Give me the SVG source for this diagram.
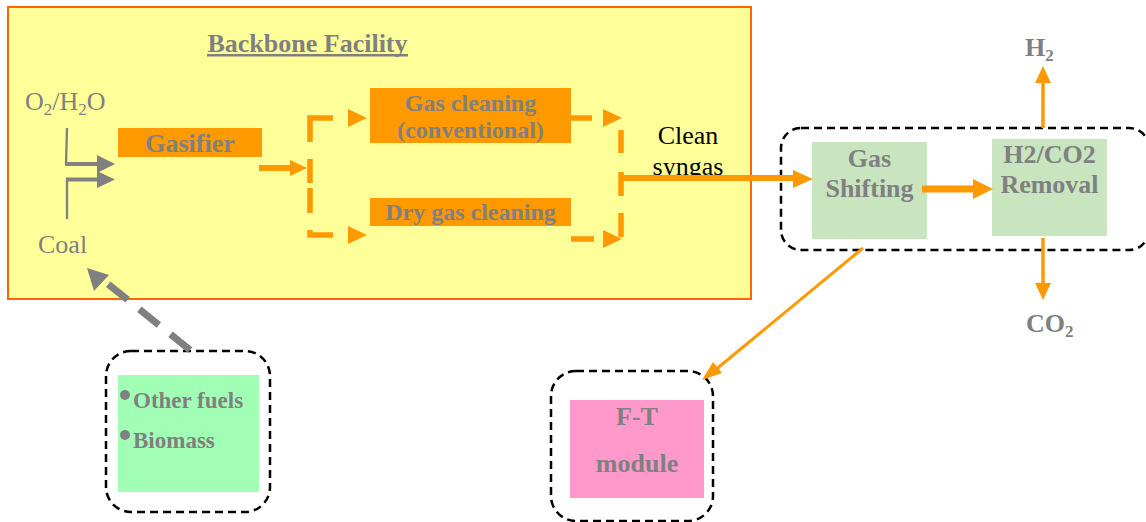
<svg xmlns="http://www.w3.org/2000/svg" width="1146" height="522" viewBox="0 0 1146 522">
<style>
.b{font-family:"Liberation Serif","Times New Roman",serif;font-weight:bold;fill:#808080}
.r{font-family:"Liberation Serif","Times New Roman",serif;fill:#808080}
.k{font-family:"Liberation Serif","Times New Roman",serif;fill:#000}
.or{fill:#FF9900}
.dash{fill:none;stroke:#000;stroke-width:2.5;stroke-dasharray:8 5}
</style>
<rect width="1146" height="522" fill="#fff"/>
<g id="backbone">
<rect x="8" y="7" width="743" height="292" fill="#FFFF99" stroke="#FF6600" stroke-width="2"/>
<text class="b" x="307.5" y="52" font-size="26" text-anchor="middle">Backbone Facility</text>
<rect x="207" y="54" width="201" height="2.5" fill="#808080"/>
</g>
<g id="inputs">
<text class="r" x="25" y="110" font-size="26">O<tspan font-size="17" dy="5">2</tspan><tspan dy="-5">/H</tspan><tspan font-size="17" dy="5">2</tspan><tspan dy="-5">O</tspan></text>
<text class="r" x="38" y="253" font-size="26">Coal</text>
</g>
<g id="gasifier">
<rect class="or" x="118" y="128" width="144" height="29"/>
<text class="b" x="190" y="152" font-size="26" text-anchor="middle">Gasifier</text>
</g>
<g id="gascleaning">
<rect class="or" x="370" y="88" width="201" height="55"/>
<text class="b" x="470.5" y="111" font-size="24" text-anchor="middle">Gas cleaning</text>
<text class="b" x="470.5" y="138" font-size="24" text-anchor="middle">(conventional)</text>
</g>
<g id="drygascleaning">
<rect class="or" x="370" y="198" width="201" height="28"/>
<text class="b" x="470.5" y="220" font-size="24" text-anchor="middle">Dry gas cleaning</text>
</g>
<g id="cleansyngas">
<text class="k" x="688" y="144" font-size="26" text-anchor="middle">Clean</text>
<text class="k" x="688" y="175" font-size="26" text-anchor="middle">syngas</text>
</g>
<g id="shiftgroup">
<rect class="dash" x="781" y="128" width="368" height="122" rx="20"/>
</g>
<g id="gasshifting">
<rect x="812" y="142" width="115" height="97" fill="#C9E5BF"/>
<text class="b" x="869.5" y="167" font-size="26" text-anchor="middle">Gas</text>
<text class="b" x="869.5" y="197" font-size="26" text-anchor="middle">Shifting</text>
</g>
<g id="removal">
<rect x="992" y="139" width="115" height="97" fill="#C9E5BF"/>
<text class="b" x="1049.5" y="163" font-size="26" text-anchor="middle">H2/CO2</text>
<text class="b" x="1049.5" y="193" font-size="26" text-anchor="middle">Removal</text>
</g>
<g id="h2">
<text class="b" x="1025" y="56" font-size="26">H<tspan font-size="17" dy="5">2</tspan></text>
</g>
<g id="co2">
<text class="b" x="1026" y="332" font-size="26">CO<tspan font-size="17" dy="5">2</tspan></text>
</g>
<g id="ft">
<rect class="dash" x="551" y="371" width="162" height="150" rx="25"/>
<rect x="570" y="400" width="134" height="98" fill="#FF99CC"/>
<text class="b" x="637" y="425" font-size="26" text-anchor="middle">F-T</text>
<text class="b" x="637" y="472" font-size="26" text-anchor="middle">module</text>
</g>
<g id="fuels">
<rect class="dash" x="106" y="351" width="164" height="161" rx="25"/>
<rect x="118" y="375" width="141" height="117" fill="#A0FFB4"/>
<circle cx="125" cy="395" r="5" fill="#808080"/>
<circle cx="125" cy="435" r="5" fill="#808080"/>
<text class="b" x="133" y="408" font-size="23">Other fuels</text>
<text class="b" x="133" y="448" font-size="23">Biomass</text>
</g>
<g id="connectors">
<path d="M67,128 L66,164" stroke="#808080" stroke-width="2.3" fill="none"/>
<path d="M65,164 H99" stroke="#808080" stroke-width="4" fill="none"/>
<polygon points="97,155 115,164 97,173" fill="#808080"/>
<path d="M67,219 V178" stroke="#808080" stroke-width="2.3" fill="none"/>
<path d="M66,179.5 H99" stroke="#808080" stroke-width="4" fill="none"/>
<polygon points="97,171 115,179.5 97,188" fill="#808080"/>
<path d="M259,168 H292" stroke="#FF9900" stroke-width="6" fill="none"/>
<polygon class="or" points="290,160 307,168 290,176"/>
<g stroke="#FF9900" stroke-width="5.5" fill="none">
<path d="M333,118 H310 V142"/>
<path d="M310,159 V183"/>
<path d="M310,188 V213"/>
<path d="M310,230 V235 H333"/>
<path d="M571,118 H592"/>
<path d="M621,130 V153"/>
<path d="M621,172 V196"/>
<path d="M621,213 V237"/>
<path d="M571,239 H594"/>
</g>
<polygon class="or" points="348,109 367,118 348,127"/>
<polygon class="or" points="348,226 367,235 348,244"/>
<polygon class="or" points="603,109 622,118 603,127"/>
<polygon class="or" points="603,230 622,239 603,248"/>
<path d="M623,178 H796" stroke="#FF9900" stroke-width="6" fill="none"/>
<polygon class="or" points="793,170 813,179 793,188"/>
<path d="M922,189 H976" stroke="#FF9900" stroke-width="7" fill="none"/>
<polygon class="or" points="973,179 993,189 973,199"/>
<path d="M1043,128 V80" stroke="#FF9900" stroke-width="3.5" fill="none"/>
<polygon class="or" points="1035,83 1043,66 1051,83"/>
<path d="M1043,238 V286" stroke="#FF9900" stroke-width="3.5" fill="none"/>
<polygon class="or" points="1035,283 1043,300 1051,283"/>
<path d="M863,248 L714,371" stroke="#FF9900" stroke-width="3" fill="none"/>
<polygon class="or" points="702,380 713,362 722,373"/>
<path d="M190,350 L103,280" stroke="#808080" stroke-width="7" stroke-dasharray="25 15" fill="none"/>
<polygon points="87,268 109,275 94,291" fill="#808080"/>
</g>
</svg>
